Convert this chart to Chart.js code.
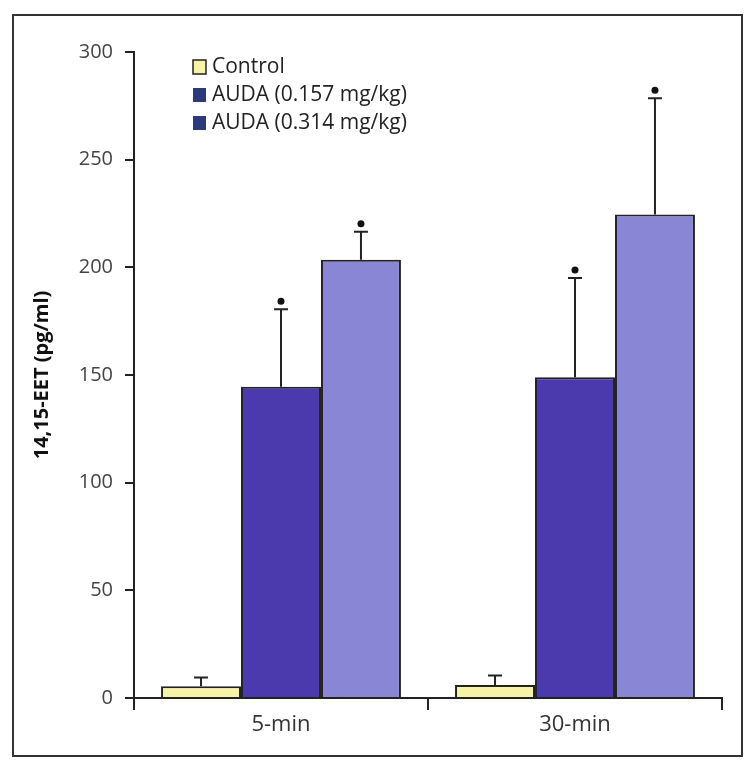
<!DOCTYPE html>
<html>
<head>
<meta charset="utf-8">
<script src="https://cdn.jsdelivr.net/npm/chart.js@4"></script>
<style>
  html, body { margin: 0; padding: 0; background: #fff; }
  #wrap { width: 750px; height: 776px; position: relative; }
</style>
</head>
<body>
<div id="wrap"><canvas id="chart" width="750" height="776"></canvas></div>
<script>
// données
const categories = ['5-min', '30-min'];
const seriesNames = ['Control', 'AUDA (0.157 mg/kg)', 'AUDA (0.314 mg/kg)'];
const controlVals = [5.5, 6];
const auda157Vals = [144.5, 149];
const auda314Vals = [203.5, 224.5];
const controlErr = [4, 4.5];
const auda157Err = [36, 46];
const auda314Err = [13, 54];
const controlSig = [false, false];
const auda157Sig = [true, true];
const auda314Sig = [true, true];
const yTicks = [0, 50, 100, 150, 200, 250, 300];

const FONT = "'Open Sans', 'Noto Sans', sans-serif";
const INK = '#222';
const legendSwatch = ['#f6f3a6', '#2b3a7a', '#2b3a7a'];

// cadre autour de la figure
const framePlugin = {
    id: 'frame',
    beforeDraw(chart) {
        const c = chart.ctx;
        c.save();
        c.fillStyle = '#fff';
        c.fillRect(0, 0, chart.width, chart.height);
        c.strokeStyle = '#333';
        c.lineWidth = 2;
        c.strokeRect(13, 15, 729, 741);
        c.restore();
    }
};

// barres d'erreur + astérisques
const errorPlugin = {
    id: 'errors',
    afterDatasetsDraw(chart) {
        const c = chart.ctx;
        const y = chart.scales.y;
        c.save();
        c.strokeStyle = INK;
        c.fillStyle = '#111';
        c.lineWidth = 2;
        chart.data.datasets.forEach((ds, i) => {
            const meta = chart.getDatasetMeta(i);
            meta.data.forEach((bar, j) => {
                const top = y.getPixelForValue(ds.data[j] + ds.err[j]);
                c.beginPath();
                c.moveTo(bar.x, bar.y);
                c.lineTo(bar.x, top);
                c.moveTo(bar.x - 7, top);
                c.lineTo(bar.x + 7, top);
                c.stroke();
                if (ds.sig[j]) {
                    c.beginPath();
                    c.arc(bar.x, top - 8, 3.5, 0, Math.PI * 2);
                    c.fill();
                }
            });
        });
        c.restore();
    }
};

// légende dessinée dans la zone du graphique
const legendPlugin = {
    id: 'innerLegend',
    afterDraw(chart) {
        const c = chart.ctx;
        c.save();
        c.font = '21px ' + FONT;
        c.textBaseline = 'middle';
        chart.data.datasets.forEach((ds, i) => {
            const ly = 67 + i * 28;
            c.fillStyle = legendSwatch[i];
            c.fillRect(193, ly - 7, 13, 14);
            if (i === 0) {
                c.strokeStyle = INK;
                c.lineWidth = 1.5;
                c.strokeRect(193, ly - 7, 13, 14);
            }
            c.fillStyle = INK;
            c.fillText(ds.label, 212, ly);
        });
        c.restore();
    }
};

const ctx = document.getElementById('chart').getContext('2d');
new Chart(ctx, {
    type: 'bar',
    data: {
        labels: categories,
        datasets: [
            { label: seriesNames[0], data: controlVals, err: controlErr, sig: controlSig,
              backgroundColor: '#f6f3a6', borderColor: INK, borderWidth: 2 },
            { label: seriesNames[1], data: auda157Vals, err: auda157Err, sig: auda157Sig,
              backgroundColor: '#4a3aae', borderColor: INK, borderWidth: 2 },
            { label: seriesNames[2], data: auda314Vals, err: auda314Err, sig: auda314Sig,
              backgroundColor: '#8a86d6', borderColor: INK, borderWidth: 2 }
        ]
    },
    options: {
        responsive: false,
        animation: false,
        layout: { padding: { left: 30, right: 28, top: 52, bottom: 30 } },
        categoryPercentage: 0.816,
        barPercentage: 1.0,
        plugins: { legend: { display: false }, tooltip: { enabled: false } },
        scales: {
            x: {
                grid: { offset: true, drawOnChartArea: false, drawTicks: true, tickLength: 12, color: INK, lineWidth: 2 },
                border: { display: true, color: INK, width: 2 },
                ticks: { color: '#333', font: { family: FONT, size: 22 }, padding: 2 },
                afterFit(s) { s.height = 48; }
            },
            y: {
                min: 0, max: 300,
                afterBuildTicks(s) { s.ticks = yTicks.map(v => ({ value: v })); },
                grid: { drawOnChartArea: false, drawTicks: true, tickLength: 9, color: INK, lineWidth: 2 },
                border: { display: true, color: INK, width: 2 },
                ticks: { color: '#444', font: { family: FONT, size: 20 }, padding: 12 },
                title: { display: true, text: '14,15-EET (pg/ml)', color: '#111',
                         font: { family: FONT, size: 20, weight: 'bold' }, padding: 0 },
                afterFit(s) { s.width = 104; }
            }
        }
    },
    plugins: [framePlugin, errorPlugin, legendPlugin]
});
</script>
</body>
</html>
